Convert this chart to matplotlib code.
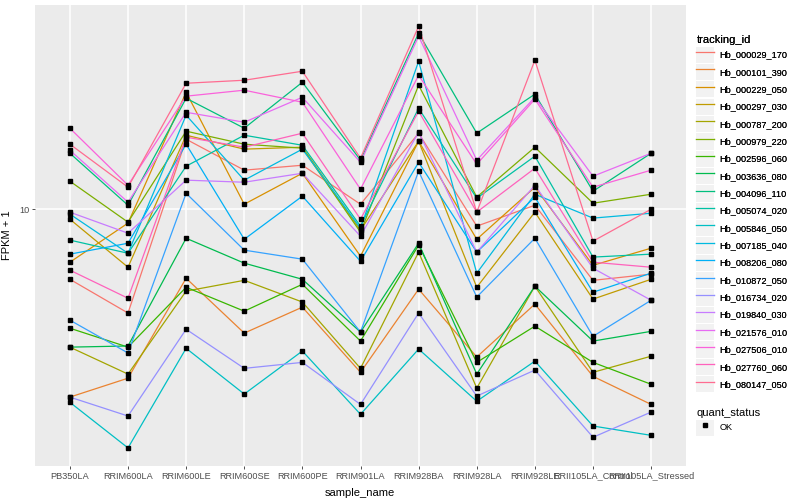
import matplotlib
matplotlib.use("Agg")
import matplotlib.pyplot as plt
from matplotlib.lines import Line2D
from matplotlib.patches import Patch
from matplotlib.legend_handler import HandlerTuple
from matplotlib.ticker import NullLocator, FixedLocator

plt.rcParams['font.family'] = ['Liberation Sans', 'DejaVu Sans']

samples = ["PB350LA", "RRIM600LA", "RRIM600LE", "RRIM600SE", "RRIM600PE",
           "RRIM901LA", "RRIM928BA", "RRIM928LA", "RRIM928LE",
           "RRII105LA_Control", "RRII105LA_Stressed"]

tracking_ids = ["Hb_000029_170", "Hb_000101_390", "Hb_000229_050", "Hb_000297_030",
                "Hb_000787_200", "Hb_000979_220", "Hb_002596_060", "Hb_003636_080",
                "Hb_004096_110", "Hb_005074_020", "Hb_005846_050", "Hb_007185_040",
                "Hb_008206_080", "Hb_010872_050", "Hb_016734_020", "Hb_019840_030",
                "Hb_021576_010", "Hb_027506_010", "Hb_027760_060", "Hb_080147_050"]

# FPKM + 1 values per gene, one value per sample (order of `samples`)
hb_000029_170 = [6.68, 5.50, 14.96, 12.52, 12.88, 10.29, 15.49, 9.07, 10.23, 6.64, 6.88]
hb_000101_390 = [3.39, 3.78, 6.72, 4.90, 5.69, 3.91, 6.31, 4.27, 5.79, 3.82, 3.25]
hb_000229_050 = [7.37, 9.23, 19.61, 10.29, 12.30, 7.63, 14.79, 8.41, 11.35, 7.24, 7.99]
hb_000297_030 = [9.44, 7.16, 15.31, 14.13, 14.29, 8.86, 14.79, 6.38, 9.83, 5.96, 6.68]
hb_000787_200 = [4.52, 3.87, 6.24, 6.64, 5.86, 4.00, 7.81, 3.57, 6.42, 3.91, 4.29]
hb_000979_220 = [11.75, 9.28, 15.67, 14.54, 14.21, 8.76, 20.42, 10.72, 14.29, 10.35, 10.90]
hb_002596_060 = [5.04, 4.52, 6.38, 5.56, 6.49, 4.68, 8.13, 4.14, 5.10, 4.14, 3.65]
hb_003636_080 = [4.52, 4.55, 8.46, 7.33, 6.68, 4.93, 8.22, 3.87, 6.42, 4.68, 4.95]
hb_004096_110 = [13.80, 10.23, 18.94, 15.94, 20.77, 13.26, 27.54, 15.49, 19.39, 11.09, 13.80]
hb_005074_020 = [8.37, 7.76, 12.81, 15.31, 14.45, 9.07, 17.88, 10.65, 13.57, 7.59, 7.72]
hb_005846_050 = [3.29, 2.53, 4.49, 3.45, 4.42, 3.07, 4.47, 3.31, 4.17, 2.87, 2.72]
hb_007185_040 = [9.72, 7.76, 17.18, 11.82, 14.13, 8.96, 23.44, 6.92, 10.90, 9.50, 9.77]
hb_008206_080 = [7.72, 8.22, 14.54, 8.41, 10.78, 7.41, 13.10, 7.81, 10.72, 6.20, 6.92]
hb_010872_050 = [5.28, 4.37, 10.96, 7.90, 7.50, 4.93, 12.45, 6.03, 8.46, 4.81, 5.92]
hb_016734_020 = [3.39, 3.04, 5.01, 4.00, 4.14, 3.25, 5.50, 3.41, 3.96, 2.69, 3.11]
hb_019840_030 = [9.83, 8.71, 11.82, 11.68, 12.30, 8.56, 15.58, 7.81, 11.48, 7.12, 5.92]
hb_021576_010 = [14.04, 10.41, 17.47, 16.50, 19.05, 13.10, 27.07, 13.26, 19.05, 12.09, 13.80]
hb_027506_010 = [15.94, 11.48, 19.17, 19.84, 18.51, 11.22, 21.63, 12.95, 18.84, 11.35, 12.52]
hb_027760_060 = [7.04, 5.99, 15.14, 14.29, 15.49, 9.44, 17.58, 9.83, 12.66, 7.37, 7.16]
hb_080147_050 = [14.54, 11.35, 20.65, 21.01, 22.13, 13.41, 28.67, 9.83, 23.58, 8.32, 10.00]

series = [hb_000029_170, hb_000101_390, hb_000229_050, hb_000297_030, hb_000787_200,
          hb_000979_220, hb_002596_060, hb_003636_080, hb_004096_110, hb_005074_020,
          hb_005846_050, hb_007185_040, hb_008206_080, hb_010872_050, hb_016734_020,
          hb_019840_030, hb_021576_010, hb_027506_010, hb_027760_060, hb_080147_050]

colors = ["#F8766D", "#EA8331", "#D89000", "#C09B00", "#A3A500", "#7CAE00", "#39B600",
          "#00BB4E", "#00BF7D", "#00C1A3", "#00BFC4", "#00BAE0", "#00B0F6", "#35A2FF",
          "#9590FF", "#C77CFF", "#E76BF3", "#FA62DB", "#FF62BC", "#FF6C91"]

fig = plt.figure(figsize=(8, 5), dpi=100)
ax = fig.add_axes([35 / 800, 1 - 466 / 500, (686 - 35) / 800, (466 - 5) / 500])
ax.set_facecolor('#EBEBEB')
for s in ax.spines.values():
    s.set_visible(False)

x = list(range(len(samples)))
for vals, col in zip(series, colors):
    ax.plot(x, vals, color=col, lw=0.9, zorder=2, solid_capstyle='butt')
for vals in series:
    ax.plot(x, vals, linestyle='none', marker='s', color='black', ms=2.3, zorder=3)

ax.set_yscale('log')
ax.set_ylim(2.28, 32.4)
ax.set_xlim(-0.6, len(samples) - 0.4)
ax.yaxis.set_major_locator(FixedLocator([10]))
ax.yaxis.set_minor_locator(NullLocator())
ax.set_yticklabels(['10'])
ax.set_xticks(x)
ax.set_xticklabels(samples)
ax.grid(True, which='major', color='white', linewidth=1.1)
ax.set_axisbelow(True)
ax.tick_params(length=2.5, width=0.6, color='#333333', labelcolor='#4D4D4D',
               labelsize=6.6, pad=1.5)

ax.set_xlabel('sample_name', fontsize=8)
ax.set_ylabel('FPKM + 1', fontsize=8)
ax.xaxis.set_label_coords((360 - 35) / 651, (466 - 488) / 461)
ax.yaxis.set_label_coords((12 - 35) / 651, 0.5)

key_bg = '#F2F2F2'
handles = [(Patch(facecolor=key_bg, edgecolor='none'), Line2D([0], [0], color=c, lw=0.9))
           for c in colors]
leg_kw = dict(loc='upper left', frameon=False, fontsize=6.6, title_fontsize=8,
              handlelength=1.9, handleheight=2.35, labelspacing=0.12,
              handletextpad=0.6, alignment='left', borderpad=0.2,
              handler_map={tuple: HandlerTuple(ndivide=1, pad=0)})
leg1 = fig.legend(handles, tracking_ids, title='tracking_id',
                  bbox_to_anchor=(690 / 800, 1 - 29 / 500), **leg_kw)
fig.add_artist(leg1)
h2 = [(Patch(facecolor=key_bg, edgecolor='none'),
       Line2D([0], [0], linestyle='none', marker='s', color='black', ms=2.3))]
leg2 = fig.legend(h2, ['OK'], title='quant_status',
                  bbox_to_anchor=(690 / 800, 1 - 402 / 500), **leg_kw)

fig.savefig('out.png', dpi=100, facecolor='white')
